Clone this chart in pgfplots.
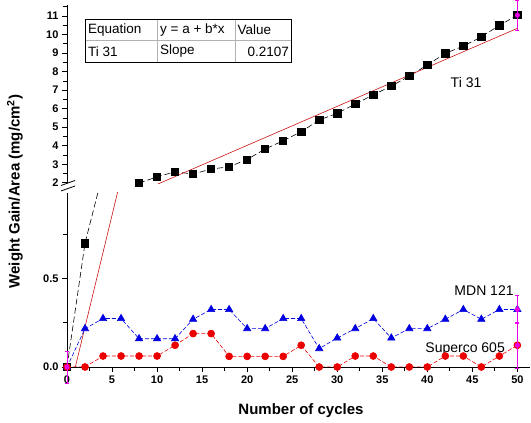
\documentclass[border=0pt]{standalone}
\usepackage{fontspec}
\setmainfont{Liberation Sans}
\usepackage{pgfplots}
\usepackage{pgfplotstable}
\pgfplotsset{compat=1.18}

\definecolor{mdn}{RGB}{0,0,225}
\definecolor{sup}{RGB}{235,0,0}
\definecolor{fitred}{RGB}{205,20,20}
\definecolor{errc}{RGB}{235,0,235}

% weight gain per cycle
\pgfplotstableread{
x   ti     mdn    sup
0   0      0      0
2   0.70   0.217  0
4   1.10   0.274  0.062
6   1.50   0.274  0.062
8   1.98   0.160  0.062
10  2.32   0.160  0.062
12  2.59   0.160  0.123
14  2.47   0.270  0.189
16  2.74   0.325  0.189
18  2.86   0.325  0.060
20  3.26   0.217  0.060
22  3.82   0.217  0.060
24  4.27   0.274  0.060
26  4.75   0.274  0.123
28  5.39   0.104  0
30  5.75   0.164  0
32  6.25   0.217  0.062
34  6.75   0.274  0.062
36  7.22   0.164  0
38  7.76   0.217  0
40  8.36   0.217  0
42  8.99   0.270  0.062
44  9.38   0.325  0.062
46  9.88   0.270  0
48  10.50  0.325  0.062
50  11.05  0.325  0.123
}\datatable

% error bars (magenta) at the first and last cycle
\pgfplotstableread{
x   y      e
0   0      0.09
50  0.325  0.08
50  0.123  0.13
}\errlow
\pgfplotstableread{
x   y      e
50  11.05  0.8
}\errup

\pgfplotsset{
  brk/.style={
    scale only axis, width=463pt,
    xmin=0, xmax=51.4,
    axis line style={-, line width=0.8pt},
    tick align=outside,
    major tick length=5pt, minor tick length=4pt,
    every tick/.style={black, line width=0.8pt},
    ticklabel style={font=\fontsize{11}{13}\selectfont\bfseries},
    /pgf/number format/assume math mode=true,
  },
  tiline/.style={black, dash pattern=on 6pt off 3pt, line width=0.6pt,
    mark=square*, mark size=3.6pt, mark options={solid}},
  fitline/.style={fitred, line width=0.6pt},
}

\begin{document}
\begin{tikzpicture}[x=1pt, y=1pt]
\path[use as bounding box] (0,0) rectangle (531,423);

% lower part of the broken axis
\begin{axis}[brk, at={(67pt,56pt)}, anchor=south west, height=174pt,
  ymin=0, ymax=0.984,
  axis x line*=bottom, axis y line*=left,
  xtick={0,5,...,50}, minor xtick={2.5,7.5,...,47.5},
  ytick={0,0.5}, minor ytick={0.25,0.75},
  yticklabel style={/pgf/number format/.cd, fixed, fixed zerofill, precision=1},
]
\addplot[tiline] table[x=x, y=ti] {\datatable};
\addplot[fitline] coordinates {(0.925,0) (50,10.34)};
\addplot[mdn, dash pattern=on 4pt off 2pt, line width=0.6pt,
  mark=triangle*, mark size=4.2pt, mark options={solid}] table[x=x, y=mdn] {\datatable};
\addplot[sup, dash pattern=on 4pt off 2pt, line width=0.6pt,
  mark=*, mark size=3.5pt, mark options={solid}] table[x=x, y=sup] {\datatable};
\node[font=\fontsize{14}{14}\selectfont] at (axis cs:46.3,0.433) {MDN 121};
\node[font=\fontsize{14}{14}\selectfont] at (axis cs:44.2,0.10) {Superco 605};
\end{axis}

% upper part of the broken axis
\begin{axis}[brk, at={(67pt,239.7pt)}, anchor=south west, height=178.3pt,
  ymin=1.97, ymax=11.6,
  axis x line=none, axis y line*=left,
  ytick={2,3,...,11}, minor ytick={2.5,3.5,...,11.5},
]
\addplot[tiline] table[x=x, y=ti] {\datatable};
\addplot[fitline] coordinates {(0.925,0) (50,10.34)};
\node[font=\fontsize{14}{14}\selectfont] at (axis cs:44.3,7.44) {Ti 31};
\end{axis}

% error bars, not clipped
\begin{axis}[brk, at={(67pt,56pt)}, anchor=south west, height=174pt,
  ymin=0, ymax=0.984, hide axis, clip=false]
\addplot[errc, only marks, mark=none, line width=1pt,
  error bars/.cd, y dir=both, y explicit]
  table[x=x, y=y, y error=e] {\errlow};
\end{axis}
\begin{axis}[brk, at={(67pt,239.7pt)}, anchor=south west, height=178.3pt,
  ymin=1.97, ymax=11.6, hide axis, clip=false]
\addplot[errc, only marks, mark=none, line width=1pt,
  error bars/.cd, y dir=both, y explicit]
  table[x=x, y=y, y error=e] {\errup};
\end{axis}

% break marks on the y axis
\fill[white] (60,232) rectangle (75,239.7);
\draw[line width=0.8pt] (61,237.5) -- (75,242.5);
\draw[line width=0.8pt] (61,232) -- (75,237);

% fit table
\draw[gray!60, line width=0.6pt] (157.3,360.3) -- (157.3,403.7)
  (235,360.3) -- (235,403.7) (85,382.7) -- (291.7,382.7);
\draw[black, line width=0.9pt] (85,360.3) rectangle (291.7,403.7);
\begin{scope}[every node/.style={font=\fontsize{13.5}{14}\selectfont, inner sep=0pt}]
\node[anchor=west] at (88,393.2) {Equation};
\node[anchor=west] at (160,393.2) {y = a + b*x};
\node[anchor=west] at (237.5,393.2) {Value};
\node[anchor=west] at (88,371.5) {Ti 31};
\node[anchor=west] at (160,371.5) {Slope};
\node[anchor=east] at (289,371.5) {0.2107};
\end{scope}

% axis titles
\node[rotate=90, font=\fontsize{15}{15}\selectfont\bfseries] at (15,231.5)
  {Weight Gain/Area (mg/cm\textsuperscript{2})};
\node[font=\fontsize{15}{15}\selectfont\bfseries] at (301,12.3) {Number of cycles};
\end{tikzpicture}
\end{document}
